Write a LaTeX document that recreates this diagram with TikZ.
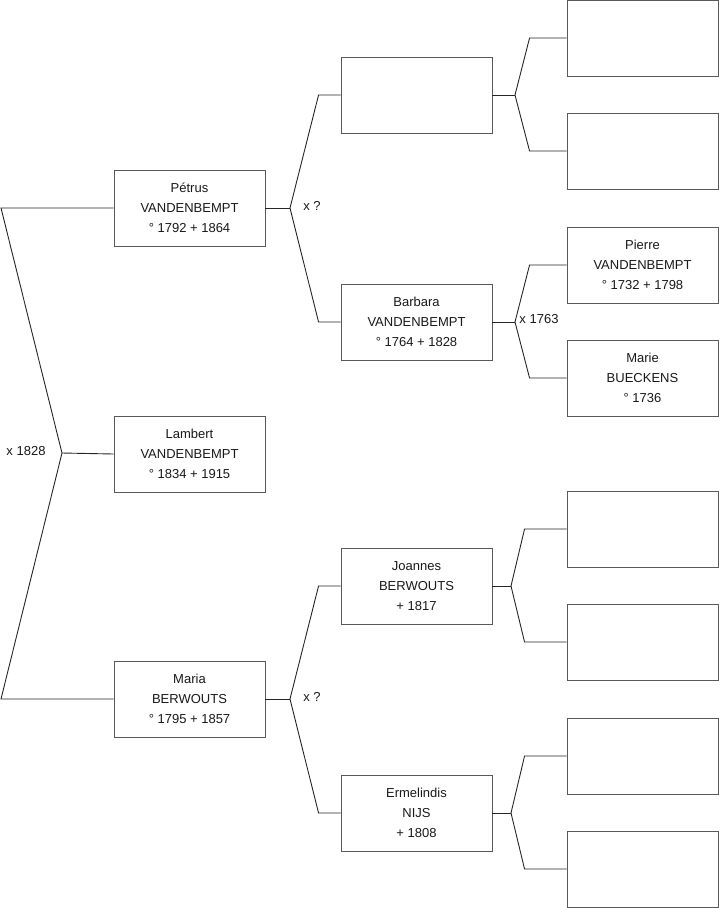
\documentclass[tikz,border=0pt]{standalone}
\usepackage{fontspec}
\setmainfont{Liberation Sans}
\usepackage{tikz}
\usetikzlibrary{positioning, calc}

\begin{document}
\begin{tikzpicture}[x=1pt, y=-1pt,
    person/.style={rectangle, draw=black!65, fill=white, line width=0.9pt, minimum width=151pt, minimum height=76pt, inner sep=0pt, align=center, font=\fontsize{13}{20}\selectfont, text=black!90},
    mark label/.style={font=\fontsize{13}{15}\selectfont, text=black!90, inner sep=0pt},
    link/.style={draw=black!85, line width=0.9pt}]

    \useasboundingbox (0,0) rectangle (719,908);

    % generation 1
    \node [person] (petrus) at (189.5,208) {Pétrus\\VANDENBEMPT\\° 1792 + 1864};
    \node [person] (lambert) at (189.5,454) {Lambert\\VANDENBEMPT\\° 1834 + 1915};
    \node [person] (maria) at (189.5,699) {Maria\\BERWOUTS\\° 1795 + 1857};

    % generation 2
    \node [person] (fpetrus) at (416.5,95) {};
    \node [person] (barbara) at (416.5,322) {Barbara\\VANDENBEMPT\\° 1764 + 1828};
    \node [person] (joannes) at (416.5,586) {Joannes\\BERWOUTS\\+ 1817};
    \node [person] (ermelindis) at (416.5,813) {Ermelindis\\NIJS\\+ 1808};

    % generation 3
    \node [person] (ffpetrus) at (642.5,38) {};
    \node [person] (mfpetrus) at (642.5,151) {};
    \node [person] (pierre) at (642.5,265) {Pierre\\VANDENBEMPT\\° 1732 + 1798};
    \node [person] (marie) at (642.5,378) {Marie\\BUECKENS\\° 1736};
    \node [person] (fjoannes) at (642.5,529) {};
    \node [person] (mjoannes) at (642.5,642) {};
    \node [person] (fermelindis) at (642.5,756) {};
    \node [person] (mermelindis) at (642.5,869) {};

    % junctions
    \coordinate (jtop) at (1,208);
    \coordinate (jroot) at (62,453);
    \coordinate (jbot) at (1,699);
    \coordinate (jpetrus) at (290,208);
    \coordinate (jmaria) at (290,699);
    \coordinate (jfpetrus) at (515,95);
    \coordinate (jbarbara) at (515,322);
    \coordinate (jjoannes) at (511,586);
    \coordinate (jermelindis) at (511,813);

    % marriage labels
    \node [mark label] (m1828) at (26,451) {x 1828};
    \node [mark label] (mpetrus) at (312,206) {x ?};
    \node [mark label] (m1763) at (539,319) {x 1763};
    \node [mark label] (mmaria) at (312,697) {x ?};

    % left bracket
    \path [link] (petrus.west) -- (jtop) -- (jroot) -- (jbot) -- (maria.west);
    \path [link] (jroot) -- (lambert.west);

    % parents of Petrus and Maria
    \path [link] (petrus.east) -- (jpetrus);
    \path [link] (jpetrus) -- ([xshift=-22pt]fpetrus.west) -- (fpetrus.west);
    \path [link] (jpetrus) -- ([xshift=-22pt]barbara.west) -- (barbara.west);
    \path [link] (maria.east) -- (jmaria);
    \path [link] (jmaria) -- ([xshift=-22pt]joannes.west) -- (joannes.west);
    \path [link] (jmaria) -- ([xshift=-22pt]ermelindis.west) -- (ermelindis.west);

    % grandparents
    \path [link] (fpetrus.east) -- (jfpetrus);
    \path [link] (jfpetrus) -- ([xshift=-37pt]ffpetrus.west) -- (ffpetrus.west);
    \path [link] (jfpetrus) -- ([xshift=-37pt]mfpetrus.west) -- (mfpetrus.west);
    \path [link] (barbara.east) -- (jbarbara);
    \path [link] (jbarbara) -- ([xshift=-37pt]pierre.west) -- (pierre.west);
    \path [link] (jbarbara) -- ([xshift=-37pt]marie.west) -- (marie.west);
    \path [link] (joannes.east) -- (jjoannes);
    \path [link] (jjoannes) -- ([xshift=-42pt]fjoannes.west) -- (fjoannes.west);
    \path [link] (jjoannes) -- ([xshift=-42pt]mjoannes.west) -- (mjoannes.west);
    \path [link] (ermelindis.east) -- (jermelindis);
    \path [link] (jermelindis) -- ([xshift=-42pt]fermelindis.west) -- (fermelindis.west);
    \path [link] (jermelindis) -- ([xshift=-42pt]mermelindis.west) -- (mermelindis.west);
\end{tikzpicture}
\end{document}
